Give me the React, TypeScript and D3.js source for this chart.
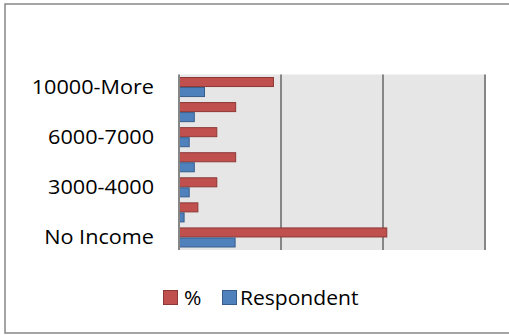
import React from "react";
import * as d3 from "d3";

const categories = ["No Income", "1000-3000", "3000-4000", "4000-6000", "6000-7000", "7000-10000", "10000-More"];
const shownLabels = ["No Income", "3000-4000", "6000-7000", "10000-More"];
const percentValues = [40.74, 3.7, 7.41, 11.11, 7.41, 11.11, 18.52];
const respondentValues = [11, 1, 2, 3, 2, 3, 5];
const seriesNames = ["%", "Respondent"];
const xTicks = [0, 20, 40, 60];

const W = 509;
const H = 335;
const plot = { left: 179, right: 485, top: 74.5, bottom: 250 };
const redFill = "#c0504d";
const redStroke = "#8c3836";
const blueFill = "#4f81bd";
const blueStroke = "#385d8a";
const font = "'Open Sans', 'Liberation Sans', sans-serif";

export default function App() {
  const x = d3.scaleLinear().domain([0, 60]).range([plot.left, plot.right]);
  const y = d3
    .scaleBand<string>()
    .domain([...categories].reverse())
    .range([plot.top, plot.bottom])
    .paddingInner(0.2)
    .paddingOuter(0.1);
  const sub = d3.scaleBand<string>().domain(seriesNames).range([0, y.bandwidth()]);

  return (
    <svg width={W} height={H} style={{ position: "absolute", left: 0, top: 0 }}>
      <rect x={5} y={4} width={510} height={329} fill="#fff" stroke="#868686" strokeWidth={1.5} />
      <rect x={plot.left} y={plot.top} width={plot.right - plot.left} height={plot.bottom - plot.top} fill="#e6e6e6" />
      {xTicks.slice(1).map((t) => (
        <line key={t} x1={x(t)} x2={x(t)} y1={plot.top} y2={plot.bottom} stroke="#868686" strokeWidth={2} />
      ))}
      {categories.map((c, i) => {
        const y0 = y(c)!;
        return (
          <g key={c}>
            <rect
              x={x(0)}
              y={y0 + sub("%")! + 0.5}
              width={x(percentValues[i]) - x(0)}
              height={sub.bandwidth() - 1}
              fill={redFill}
              stroke={redStroke}
              strokeWidth={1}
            />
            <rect
              x={x(0)}
              y={y0 + sub("Respondent")! + 0.5}
              width={x(respondentValues[i]) - x(0)}
              height={sub.bandwidth() - 1}
              fill={blueFill}
              stroke={blueStroke}
              strokeWidth={1}
            />
          </g>
        );
      })}
      <line x1={plot.left} x2={plot.left} y1={plot.top} y2={plot.bottom} stroke="#868686" strokeWidth={2} />
      {categories
        .filter((c) => shownLabels.includes(c))
        .map((c) => (
          <text
            key={c}
            transform={`translate(154,${y(c)! + y.bandwidth() / 2}) scale(1.11,1)`}
            dy="0.35em"
            textAnchor="end"
            fontFamily={font}
            fontSize={19.5}
            fill="#000"
          >
            {c}
          </text>
        ))}
      <g>
        <rect x={163.5} y={290.5} width={14} height={14} fill={redFill} stroke={redStroke} strokeWidth={1} />
        <text transform="translate(184,305) scale(1.08,1)" fontFamily={font} fontSize={19.5} fill="#000">
          {seriesNames[0]}
        </text>
        <rect x={222.5} y={290.5} width={14} height={14} fill={blueFill} stroke={blueStroke} strokeWidth={1} />
        <text transform="translate(240,305) scale(1.08,1)" fontFamily={font} fontSize={19.5} fill="#000">
          {seriesNames[1]}
        </text>
      </g>
    </svg>
  );
}
